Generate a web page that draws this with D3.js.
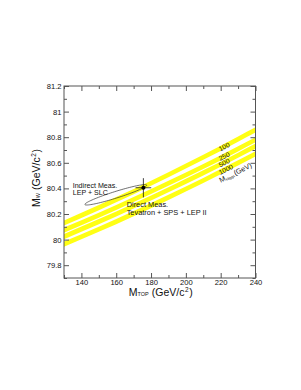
<!DOCTYPE html>
<html>
<head>
<meta charset="utf-8">
<script src="https://cdn.jsdelivr.net/npm/d3@7"></script>
<style>
  body { margin: 0; background: #fff; }
  text { font-family: "Liberation Sans", Arial, Helvetica, sans-serif; fill: #111; }
</style>
</head>
<body>
<svg id="chart"></svg>
<script>
// top mass grid (GeV) where the bands were read
const mtop = [130, 150, 170, 190, 210, 230, 240];
// MW (GeV) of each Higgs-mass band
const higgsMasses = ["100", "250", "500", "1000"];
const bandValues = [
  [80.13, 80.25, 80.375, 80.507, 80.643, 80.785, 80.857],
  [80.074, 80.19, 80.313, 80.44, 80.571, 80.709, 80.78],
  [80.023, 80.14, 80.262, 80.389, 80.521, 80.659, 80.73],
  [79.965, 80.081, 80.203, 80.33, 80.462, 80.599, 80.67]
];
const bandHalf = 0.02;

// direct measurement
const direct = { mt: 175.6, mtErr: 4.5, mw: 80.405, mwErr: 0.075 };
// indirect contour: centre, major half-axis vector, minor half-axis vector
const indirect = { mt: 159.75, mw: 80.35, a: [17.75, 0.075], b: [0, 0.027] };

const xTicks = [140, 160, 180, 200, 220, 240];
const xMinor = [130, 150, 170, 190, 210, 230];
const yTicks = [79.8, 80, 80.2, 80.4, 80.6, 80.8, 81, 81.2];
const yTickLabels = ["79.8", "80", "80.2", "80.4", "80.6", "80.8", "81", "81.2"];
const yMinor = [79.7, 79.9, 80.1, 80.3, 80.5, 80.7, 80.9, 81.1];

const W = 301, H = 390;
const margin = { top: 86, right: 45.5, bottom: 112, left: 64 };
const width = W - margin.left - margin.right;
const height = H - margin.top - margin.bottom;

const svg = d3.select("#chart").attr("width", W).attr("height", H);
const chart = svg.append("g").attr("transform", `translate(${margin.left}, ${margin.top})`);

const x = d3.scaleLinear().domain([130, 240]).range([0, width]);
const y = d3.scaleLinear().domain([79.7, 81.2]).range([height, 0]);

svg.append("defs").append("clipPath").attr("id", "clip")
  .append("rect").attr("width", width).attr("height", height);

const plot = chart.append("g").attr("clip-path", "url(#clip)");

// bands
const area = d3.area()
  .curve(d3.curveMonotoneX)
  .x(d => x(d[0]))
  .y0(d => y(d[1] - bandHalf))
  .y1(d => y(d[1] + bandHalf));

bandValues.forEach(vals => {
  plot.append("path")
    .datum(mtop.map((m, i) => [m, vals[i]]))
    .attr("d", area)
    .attr("fill", "#ffff14");
});

// indirect ellipse
const ell = d3.range(0, 361, 4).map(t => {
  const r = t * Math.PI / 180;
  return [indirect.mt + Math.cos(r) * indirect.a[0] + Math.sin(r) * indirect.b[0],
          indirect.mw + Math.cos(r) * indirect.a[1] + Math.sin(r) * indirect.b[1]];
});
plot.append("path")
  .datum(ell)
  .attr("d", d3.line().x(d => x(d[0])).y(d => y(d[1])).curve(d3.curveLinearClosed))
  .attr("fill", "none")
  .attr("stroke", "#333")
  .attr("stroke-width", 0.7);

// direct point
plot.append("line")
  .attr("x1", x(direct.mt - direct.mtErr)).attr("x2", x(direct.mt + direct.mtErr))
  .attr("y1", y(direct.mw)).attr("y2", y(direct.mw))
  .attr("stroke", "#111").attr("stroke-width", 0.8);
plot.append("line")
  .attr("x1", x(direct.mt)).attr("x2", x(direct.mt))
  .attr("y1", y(direct.mw - direct.mwErr)).attr("y2", y(direct.mw + direct.mwErr))
  .attr("stroke", "#111").attr("stroke-width", 0.8);
plot.append("circle")
  .attr("cx", x(direct.mt)).attr("cy", y(direct.mw)).attr("r", 2)
  .attr("fill", "#000");

// band labels
function bandAt(vals, m) {
  return d3.scaleLinear().domain(mtop).range(vals)(m);
}
const labelMt = 219;
bandValues.forEach((vals, i) => {
  const px = x(labelMt), py = y(bandAt(vals, labelMt));
  const ang = Math.atan2(y(bandAt(vals, 230)) - y(bandAt(vals, 210)), x(230) - x(210)) * 180 / Math.PI;
  chart.append("text")
    .attr("transform", `translate(${px}, ${py}) rotate(${ang})`)
    .attr("dy", "0.4em")
    .attr("font-size", 6.8)
    .text(higgsMasses[i]);
  if (i === bandValues.length - 1) {
    const hx = x(labelMt - 1.5), hy = y(bandAt(vals, labelMt - 1.5));
    const t = chart.append("text")
      .attr("transform", `translate(${hx}, ${hy}) rotate(${ang})`)
      .attr("dy", 10)
      .attr("font-size", 7.2);
    t.append("tspan").text("M");
    t.append("tspan").attr("font-size", 3.8).attr("dy", 1).text("Higgs");
    t.append("tspan").attr("dy", -1).attr("dx", 0.4).text("(GeV)");
  }
});

// annotations
chart.append("text").attr("x", x(135)).attr("y", y(80.405)).attr("font-size", 7.1).text("Indirect Meas.");
chart.append("text").attr("x", x(135)).attr("y", y(80.35)).attr("font-size", 7.1).text("LEP + SLC");
chart.append("text").attr("x", x(166)).attr("y", y(80.252)).attr("font-size", 7.4).text("Direct Meas.");
chart.append("text").attr("x", x(166)).attr("y", y(80.19)).attr("font-size", 7.4).text("Tevatron + SPS + LEP II");

// axes
const axisColor = "#555";
function styleAxis(g) {
  g.select(".domain").remove();
  g.selectAll(".tick line").attr("stroke", axisColor);
  g.selectAll(".tick text").attr("font-size", 7.6).attr("fill", "#111");
}

chart.append("g").attr("transform", `translate(0, ${height})`)
  .call(d3.axisBottom(x).tickValues(xTicks).tickSize(-5).tickPadding(1.5).tickFormat(d3.format("d")))
  .call(styleAxis);
chart.append("g").attr("transform", `translate(0, ${height})`)
  .call(d3.axisBottom(x).tickValues(xMinor).tickSize(-3).tickFormat(""))
  .call(styleAxis);
chart.append("g")
  .call(d3.axisTop(x).tickValues(xTicks).tickSize(-5).tickFormat(""))
  .call(styleAxis);
chart.append("g")
  .call(d3.axisTop(x).tickValues(xMinor).tickSize(-3).tickFormat(""))
  .call(styleAxis);

chart.append("g")
  .call(d3.axisLeft(y).tickValues(yTicks).tickSize(-5).tickPadding(2.5)
    .tickFormat((d, i) => yTickLabels[i]))
  .call(styleAxis);
chart.append("g")
  .call(d3.axisLeft(y).tickValues(yMinor).tickSize(-3).tickFormat(""))
  .call(styleAxis);
chart.append("g").attr("transform", `translate(${width}, 0)`)
  .call(d3.axisRight(y).tickValues(yTicks).tickSize(-5).tickFormat(""))
  .call(styleAxis);
chart.append("g").attr("transform", `translate(${width}, 0)`)
  .call(d3.axisRight(y).tickValues(yMinor).tickSize(-3).tickFormat(""))
  .call(styleAxis);

chart.append("rect")
  .attr("width", width).attr("height", height)
  .attr("fill", "none").attr("stroke", axisColor).attr("stroke-width", 1);

// axis titles
function title(g, sub) {
  g.append("tspan").text("M");
  g.append("tspan").attr("font-size", 5.5).text(sub);
  g.append("tspan").attr("dx", 3).text("(GeV/c");
  g.append("tspan").attr("font-size", 6.5).attr("dx", 0.6).attr("dy", -4).text("2");
  g.append("tspan").attr("dx", 0.6).attr("dy", 4).text(")");
}

const xt = chart.append("text")
  .attr("x", width / 2 + 1).attr("y", height + 18)
  .attr("text-anchor", "middle").attr("font-size", 10.5);
title(xt, "TOP");

const yt = chart.append("text")
  .attr("transform", `translate(-24, ${height / 2 - 4}) rotate(-90)`)
  .attr("text-anchor", "middle").attr("font-size", 10.5);
title(yt, "W");
</script>
</body>
</html>
